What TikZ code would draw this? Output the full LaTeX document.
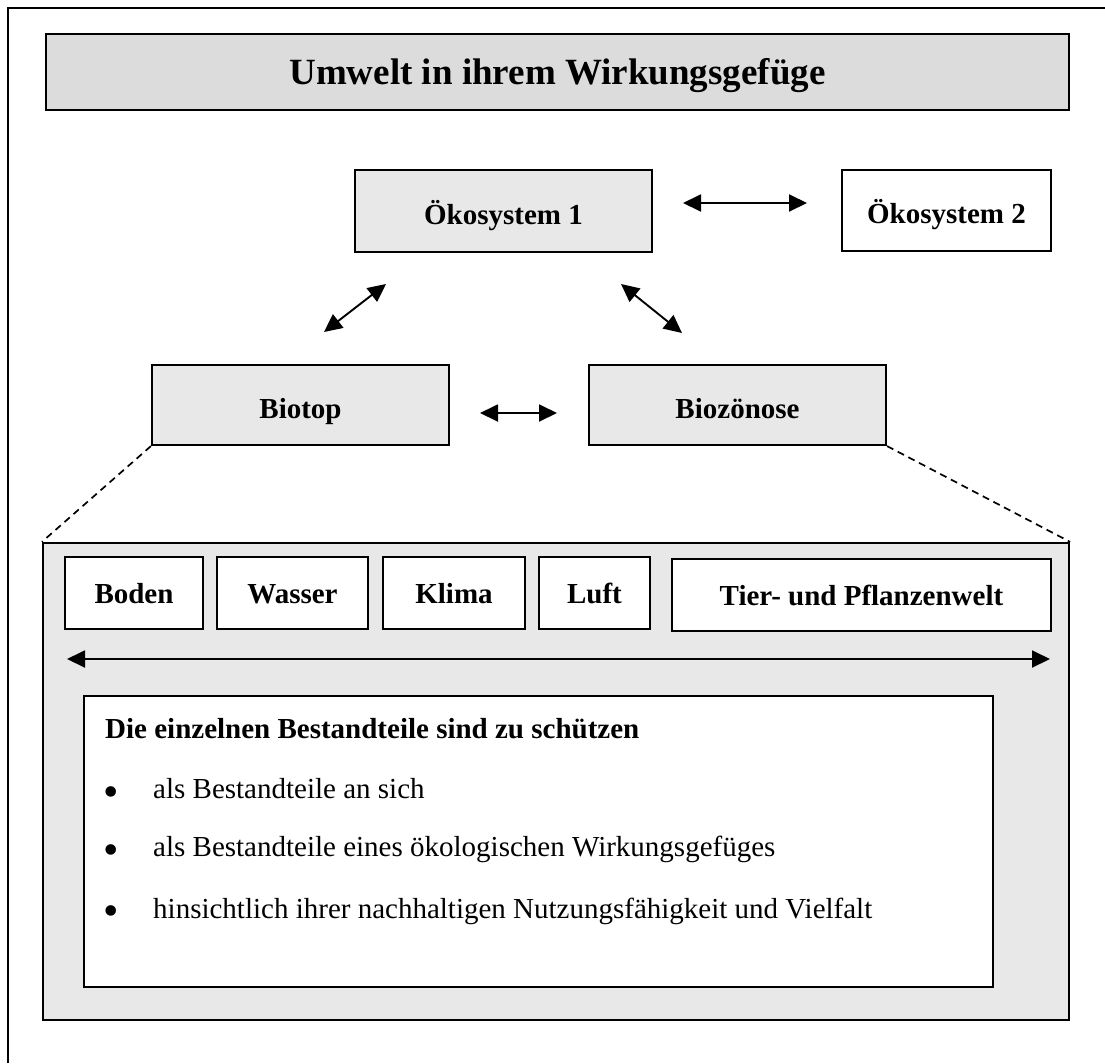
\documentclass[tikz,border=0pt]{standalone}
\usepackage{fontspec}
\setmainfont{Liberation Serif}
\usetikzlibrary{arrows.meta}
\definecolor{titlegray}{HTML}{DCDCDC}
\definecolor{boxgray}{HTML}{E8E8E8}

\begin{document}
\begin{tikzpicture}[x=1pt,y=-1pt,
  box/.style={draw=black, line width=2.2pt, inner sep=0pt,
    font=\fontsize{29}{34}\selectfont\bfseries, text height=26pt, text depth=0pt},
  graybox/.style={box, fill=boxgray},
  whitebox/.style={box, fill=white},
  elem/.style={whitebox, minimum height=72pt, text height=20pt},
  biarrow/.style={line width=1.9pt,
    {Triangle[length=18pt,width=17pt]}-{Triangle[length=18pt,width=17pt]}},
  zoomline/.style={line width=1.7pt, dash pattern=on 7pt off 5pt},
  bodytext/.style={inner sep=0pt, font=\fontsize{29}{34}\selectfont},
  bulletmark/.style={inner sep=0pt, anchor=base, font=\fontsize{44}{44}\selectfont},
]
\useasboundingbox (0,0) rectangle (1105,1063);

% open outer frame
\draw[line width=2pt] (8,1063) -- (8,8) -- (1105,8);

% title bar
\node[box, fill=titlegray, minimum width=1023pt, minimum height=76pt,
      font=\fontsize{37}{44}\selectfont\bfseries, text height=24pt]
  (title) at (557.5,72) {Umwelt in ihrem Wirkungsgefüge};

% ecosystems
\node[graybox, minimum width=297pt, minimum height=82pt] (oeko1) at (503.5,211) {Ökosystem 1};
\node[whitebox, minimum width=209pt, minimum height=81pt] (oeko2) at (946.5,210.5) {Ökosystem 2};
\node[graybox, minimum width=297pt, minimum height=80pt] (biotop) at (300.5,405) {Biotop};
\node[graybox, minimum width=297pt, minimum height=80pt] (biozoenose) at (737.5,405) {Biozönose};

% detail panel
\node[draw=black, line width=2.2pt, fill=boxgray, inner sep=0pt,
      minimum width=1026pt, minimum height=477pt] (detail) at (556,781.5) {};

% components
\node[elem, minimum width=138pt] (boden)  at (134,593)   {Boden};
\node[elem, minimum width=151pt] (wasser) at (292.5,593) {Wasser};
\node[elem, minimum width=142pt] (klima)  at (454,593)   {Klima};
\node[elem, minimum width=111pt] (luft)   at (594.5,593) {Luft};
\node[elem, minimum width=379pt] (tier)   at (861.5,595) {Tier- und Pflanzenwelt};

% protection note
\node[draw=black, line width=2.2pt, fill=white, inner sep=0pt,
      minimum width=909pt, minimum height=291pt] (note) at (538.5,841.5) {};
\node[bodytext, anchor=base west, font=\fontsize{29}{34}\selectfont\bfseries]
  (head) at (105,738) {Die einzelnen Bestandteile sind zu schützen};
\node[bulletmark] (dot1) at (111,806) {\textbullet};
\node[bodytext, anchor=base west] (item1) at (153,798) {als Bestandteile an sich};
\node[bulletmark] (dot2) at (111,864) {\textbullet};
\node[bodytext, anchor=base west] (item2) at (153,856) {als Bestandteile eines ökologischen Wirkungsgefüges};
\node[bulletmark] (dot3) at (111,925) {\textbullet};
\node[bodytext, anchor=base west] (item3) at (153,918) {hinsichtlich ihrer nachhaltigen Nutzungsfähigkeit und Vielfalt};

% arrow ends
\coordinate (e1a) at (683,203);  \coordinate (e1b) at (807,203);
\coordinate (e2a) at (324,332);  \coordinate (e2b) at (386,284);
\coordinate (e3a) at (621,284);  \coordinate (e3b) at (682,333);
\coordinate (e4a) at (480,413);  \coordinate (e4b) at (557,413);
\coordinate (e5a) at (67,659);   \coordinate (e5b) at (1050,659);

\draw[biarrow] (e1a) -- (e1b);
\draw[biarrow] (e2a) -- (e2b);
\draw[biarrow] (e3a) -- (e3b);
\draw[biarrow] (e4a) -- (e4b);
\draw[biarrow] (e5a) -- (e5b);

% zoom lines
\draw[zoomline] (biotop.south west) -- (detail.north west);
\draw[zoomline] (biozoenose.south east) -- (detail.north east);
\end{tikzpicture}
\end{document}
